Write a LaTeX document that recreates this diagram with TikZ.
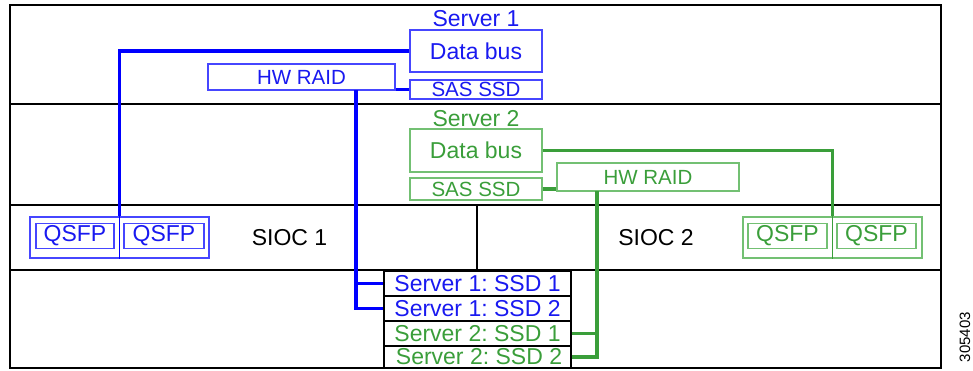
\documentclass[tikz,border=0pt]{standalone}
\usepackage{fontspec}
\setmainfont{Liberation Sans}
\frenchspacing
\definecolor{bl}{RGB}{25,25,240}
\definecolor{blline}{RGB}{70,70,255}
\definecolor{gr}{RGB}{58,158,58}
\definecolor{grline}{RGB}{115,192,115}
\newcommand\fbig{\fontsize{23}{23}\selectfont}
\newcommand\fsml{\fontsize{20.5}{20.5}\selectfont}
\tikzset{
  frame/.style={draw=black, line width=2.4pt},
  bbox/.style={draw=blline, text=bl, line width=1.4pt, inner sep=0pt, font=\fbig},
  gbox/.style={draw=grline, text=gr, line width=1.4pt, inner sep=0pt, font=\fbig},
  btxt/.style={text=bl, inner sep=0pt, font=\fbig},
  gtxt/.style={text=gr, inner sep=0pt, font=\fbig},
  ktxt/.style={text=black, inner sep=0pt, font=\fbig},
  bconn/.style={draw=blue, line width=3.3pt},
  gconn/.style={draw=gr, line width=3.3pt},
  bdiv/.style={draw=blue, line width=1.8pt},
  gdiv/.style={draw=gr, line width=1.8pt},
  ssdrow/.style={draw=black, line width=1.9pt, inner sep=0pt, minimum width=187pt, font=\fbig},
}
\begin{document}
\begin{tikzpicture}[x=1pt,y=-1pt]
\useasboundingbox (0,0) rectangle (973,370);
% frame
\draw[frame] (10,5) rectangle (941,368);
\draw[frame] (10,104) -- (941,104);
\draw[frame] (10,205) -- (941,205);
\draw[frame] (10,270) -- (941,270);
\draw[frame] (477,205) -- (477,270);

% Server 1
\node[btxt] (s1) at (476,19) {Server 1};
\node[bbox, minimum width=132pt, minimum height=42pt] (db1) at (476,51) {Data bus};
\node[bbox, font=\fsml, minimum width=132pt, minimum height=19pt] (sas1) at (476,89.5) {SAS SSD};
\node[bbox, font=\fsml, minimum width=187pt, minimum height=26pt] (raid1) at (301.5,77) {HW RAID};

% Server 2
\node[gtxt] (s2) at (476,119) {Server 2};
\node[gbox, minimum width=132pt, minimum height=43pt] (db2) at (476,150.5) {Data bus};
\node[gbox, font=\fsml, minimum width=132pt, minimum height=22pt] (sas2) at (476,189) {SAS SSD};
\node[gbox, font=\fsml, minimum width=182pt, minimum height=28pt] (raid2) at (648,177) {HW RAID};

% SIOC 1
\node[bbox, minimum width=179pt, minimum height=41pt] (qg1) at (119.5,237.5) {};
\node[bbox, minimum width=78pt, minimum height=25pt] (q1a) at (75,236) {QSFP};
\node[bbox, minimum width=80pt, minimum height=25pt] (q1b) at (164,236) {QSFP};
\node[ktxt] (sioc1) at (289.5,238) {SIOC 1};

% SIOC 2
\node[gbox, minimum width=179pt, minimum height=41pt] (qg2) at (832.5,237.5) {};
\node[gbox, minimum width=79pt, minimum height=25pt] (q2a) at (787.5,236) {QSFP};
\node[gbox, minimum width=79pt, minimum height=25pt] (q2b) at (876.5,236) {QSFP};
\node[ktxt] (sioc2) at (656,238) {SIOC 2};

% SSD slots
\node[ssdrow, minimum height=25pt, text=bl] (ssd11) at (477.5,283.5) {Server 1: SSD 1};
\node[ssdrow, minimum height=25pt, text=bl] (ssd12) at (477.5,308.5) {Server 1: SSD 2};
\node[ssdrow, minimum height=25pt, text=gr] (ssd21) at (477.5,333.5) {Server 2: SSD 1};
\node[ssdrow, minimum height=22pt, text=gr] (ssd22) at (477.5,357) {\hspace{3pt}Server 2: SSD 2};

% figure number
\node[rotate=90, inner sep=0pt, font=\fontsize{15}{15}\selectfont] (fignum) at (965,337) {305403};

% Server 1 connectors
\coordinate (r1tap) at (356,90);
\draw[bconn] (db1.west) -| (qg1.north);
\draw[bdiv] (qg1.north) -- (qg1.south);
\draw[bconn] (sas1.west) -- (sas1.west -| raid1.east);
\draw[bconn] (r1tap) |- (ssd12.west);
\draw[bconn] (r1tap |- ssd11.west) -- (ssd11.west);

% Server 2 connectors
\coordinate (r2tap) at (597,191);
\draw[gconn] (db2.east) -| (qg2.north);
\draw[gdiv] (qg2.north) -- (qg2.south);
\draw[gconn] (sas2.east) -- (sas2.east -| raid2.west);
\draw[gconn] (r2tap) |- (ssd22.east);
\draw[gconn] (r2tap |- ssd21.east) -- (ssd21.east);
\end{tikzpicture}
\end{document}
